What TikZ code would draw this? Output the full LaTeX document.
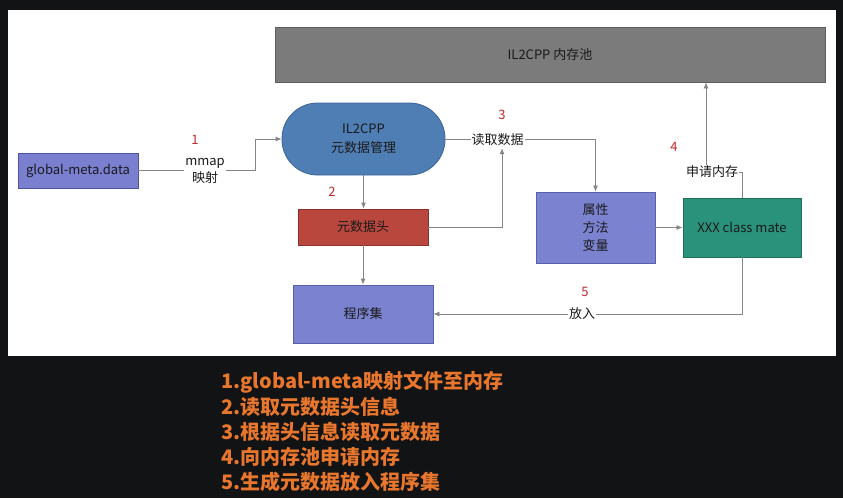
\documentclass[tikz,border=0pt]{standalone}
\usepackage{fontspec}
\setmainfont{Noto Sans CJK SC}
\usetikzlibrary{arrows.meta}
\definecolor{bgdark}{HTML}{121314}
\definecolor{poolfill}{HTML}{7B7B7B}
\definecolor{pooldraw}{HTML}{5E5E5E}
\definecolor{ilfill}{HTML}{4F7EB5}
\definecolor{ildraw}{HTML}{3A659A}
\definecolor{gmfill}{HTML}{7A7FD0}
\definecolor{gmdraw}{HTML}{4E53A0}
\definecolor{hdfill}{HTML}{B9473D}
\definecolor{hddraw}{HTML}{8B2F28}
\definecolor{pfill}{HTML}{7B83D0}
\definecolor{pdraw}{HTML}{5A60A8}
\definecolor{xfill}{HTML}{2A917A}
\definecolor{xdraw}{HTML}{1F6F5D}
\definecolor{linec}{HTML}{858585}
\definecolor{numred}{HTML}{C62828}
\definecolor{orangetxt}{HTML}{E8762C}
\definecolor{boxtxt}{HTML}{1A1A1A}
\tikzset{
  boxnode/.style={draw, line width=0.8pt, text=boxtxt, font=\fontsize{13}{16}\selectfont, align=center, inner sep=0pt},
  conn/.style={draw=linec, line width=0.8pt},
  arr/.style={conn, -{Latex[length=6pt,width=5pt]}},
  lbl/.style={fill=white, text=boxtxt, font=\fontsize{13}{17}\selectfont, align=center, inner sep=1pt},
  num/.style={text=numred, font=\fontsize{13}{15}\selectfont},
  note/.style={anchor=west, text=orangetxt, font=\fontsize{20}{22}\selectfont\bfseries, inner sep=0pt}
}
\begin{document}
\begin{tikzpicture}[x=1pt,y=-1pt]
\useasboundingbox (0,0) rectangle (843,498);
\fill[bgdark] (0,0) rectangle (843,498);
\fill[white] (8,10) rectangle (836,356);

% nodes
\node[boxnode, fill=poolfill, draw=pooldraw, minimum width=550, minimum height=55] (pool) at (550,54.5) {IL2CPP 内存池};
\node[boxnode, fill=gmfill, draw=gmdraw, minimum width=120, minimum height=35] (gm) at (78,170.5) {global-meta.data};
\node[boxnode, fill=ilfill, draw=ildraw, minimum width=163, minimum height=72, rounded corners=35.5, font=\fontsize{13}{19}\selectfont] (il) at (363.5,139) {IL2CPP\\元数据管理};
\node[boxnode, fill=hdfill, draw=hddraw, minimum width=130, minimum height=36] (hd) at (363,227) {元数据头};
\node[boxnode, fill=pfill, draw=pdraw, minimum width=119, minimum height=71, font=\fontsize{13}{18}\selectfont] (attr) at (595.5,227.5) {属性\\方法\\变量};
\node[boxnode, fill=xfill, draw=xdraw, minimum width=118, minimum height=59] (xxx) at (742,227.5) {XXX class mate};
\node[boxnode, fill=pfill, draw=pdraw, minimum width=140, minimum height=58] (asm) at (363,314) {程序集};

% bend coordinates
\coordinate (k1) at (255,0);
\coordinate (k4) at (706,172);

% connectors
\draw[arr] (gm.east) -- (gm.east -| k1) |- (il.west);
\node[lbl] (lb1) at (205,171) {mmap\\映射};
\node[num] (n1) at (195,140) {1};

\draw[arr] (il.south) -- (il.south |- hd.north);
\node[num] (n2) at (332,192) {2};

\draw[arr] (il.east) -| (attr.north);
\node[lbl] (lb3) at (497.5,140) {读取数据};
\node[num] (n3) at (502,115) {3};
\draw[arr] (hd.east) -| ([xshift=4.5pt,yshift=-1pt]lb3.south);

\draw[arr] (attr.east) -- (xxx.west);

\draw[arr] (xxx.north) |- (k4) -- (k4 |- pool.south);
\node[lbl] (lb4) at (712,172) {申请内存};
\node[num] (n4) at (674,147) {4};

\draw[arr] (xxx.south) |- (asm.east);
\node[lbl] (lb5) at (582,314) {放入};
\node[num] (n5) at (585,292) {5};

\draw[arr] (hd.south) -- (hd.south |- asm.north);

% notes
\node[note] (t1) at (221,382) {1.global-meta映射文件至内存};
\node[note] (t2) at (221,407) {2.读取元数据头信息};
\node[note] (t3) at (221,432) {3.根据头信息读取元数据};
\node[note] (t4) at (221,457) {4.向内存池申请内存};
\node[note] (t5) at (221,482) {5.生成元数据放入程序集};
\end{tikzpicture}
\end{document}
